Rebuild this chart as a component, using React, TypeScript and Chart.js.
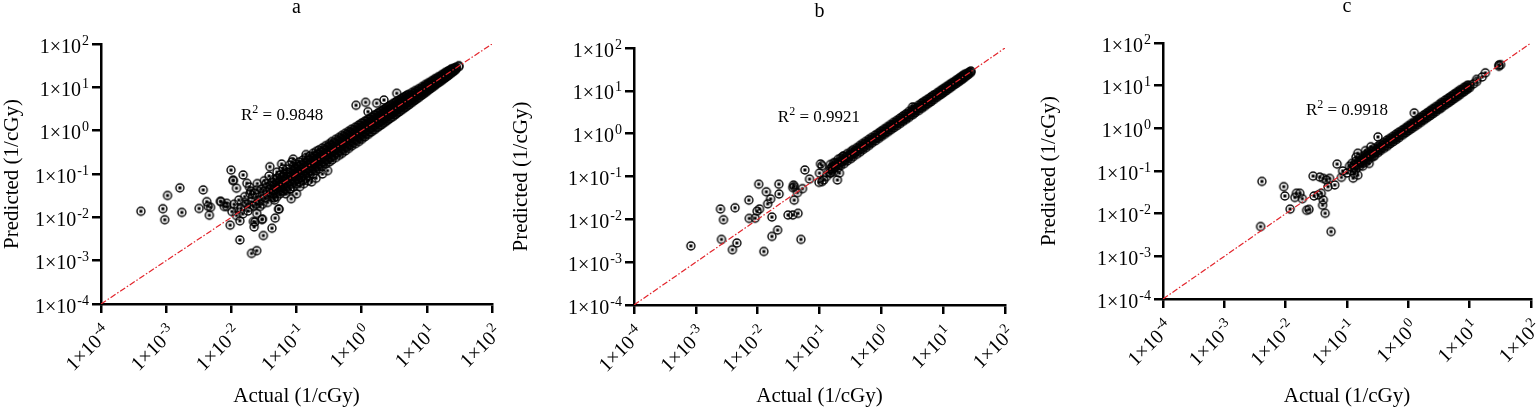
import React, { useEffect, useRef } from 'react';
import { Chart, registerables } from 'chart.js';

Chart.register(...registerables);

type Pair = [number, number];
type Column = [number, number[]];

const decadeExps = [-4, -3, -2, -1, 0, 1, 2];
const panelTitles = ['a', 'b', 'c'];
const rSquared = ['0.9848', '0.9921', '0.9918'];
const xTitle = 'Actual (1/cGy)';
const yTitle = 'Predicted (1/cGy)';

// [actual, predicted] points away from the main band
const scatterA: Pair[] = [
  [4.1e-4, 0.0138], [8.9e-4, 0.0158], [9.5e-4, 0.0088], [1.05e-3, 0.032], [1.62e-3, 0.048],
  [1.74e-3, 0.013], [3.2e-3, 0.016], [3.7e-3, 0.043], [4.2e-3, 0.023], [4.4e-3, 0.018],
  [4.6e-3, 0.0112], [4.8e-3, 0.017], [6.8e-3, 0.0234], [7.8e-3, 0.0178], [8.5e-3, 0.021],
  [9.9e-3, 0.123], [0.0107, 0.072], [0.0152, 0.095], [0.0096, 0.0066], [0.0135, 0.0083],
  [0.0135, 0.003], [0.0204, 0.00147], [0.0245, 0.0017], [0.0224, 0.006], [0.023, 0.0078],
  [0.031, 0.0038], [0.03, 0.0091], [0.042, 0.0056], [0.047, 0.0096], [0.053, 0.0155],
  [0.083, 0.027], [0.17, 0.066], [0.82, 3.85], [1.15, 4.5], [1.25, 2.75], [1.7, 4.3],
  [2.2, 5.1], [3.45, 7.3], [0.0107, 0.07], [0.012, 0.047], [0.0173, 0.061], [0.0069, 0.023],
  [0.0085, 0.0178], [0.0102, 0.0136], [0.0218, 0.008], [0.0295, 0.0089], [0.054, 0.0155],
  [0.0245, 0.0123], [0.0275, 0.0178], [0.0204, 0.023], [0.0193, 0.0355], [0.0245, 0.043],
  [0.0347, 0.051], [0.039, 0.147], [0.059, 0.17], [0.085, 0.19], [0.056, 0.095], [0.112, 0.051],
  [0.089, 0.22], [0.011, 0.02], [0.013, 0.025], [0.014, 0.016], [0.016, 0.03], [0.017, 0.02],
  [0.018, 0.014], [0.019, 0.05], [0.021, 0.028], [0.022, 0.018], [0.023, 0.036], [0.025, 0.06],
  [0.026, 0.025], [0.028, 0.032], [0.029, 0.045], [0.03, 0.02], [0.032, 0.07], [0.033, 0.028],
  [0.035, 0.038], [0.036, 0.022], [0.038, 0.09], [0.04, 0.03], [0.041, 0.055], [0.043, 0.042],
  [0.045, 0.075], [0.046, 0.025], [0.048, 0.035], [0.05, 0.11], [0.052, 0.05], [0.055, 0.065],
  [0.058, 0.04], [0.06, 0.085], [0.062, 0.13], [0.065, 0.05], [0.068, 0.035], [0.072, 0.11],
  [0.075, 0.06], [0.078, 0.16], [0.08, 0.045], [0.095, 0.14], [0.1, 0.035], [0.13, 0.06],
  [0.15, 0.07], [0.2, 0.08], [0.14, 0.28], [0.25, 0.1], [0.3, 0.12], [0.012, 0.011],
  [0.0125, 0.016], [0.015, 0.012], [0.016, 0.022], [0.019, 0.017], [0.02, 0.04], [0.024, 0.02],
  [0.027, 0.024], [0.031, 0.04], [0.034, 0.06], [0.037, 0.03], [0.039, 0.045], [0.042, 0.065],
  [0.044, 0.035], [0.047, 0.05], [0.051, 0.08], [0.053, 0.04], [0.057, 0.055], [0.061, 0.07],
  [0.064, 0.1], [0.067, 0.045], [0.07, 0.13], [0.074, 0.085], [0.086, 0.06], [0.09, 0.1],
];

// [actual, predicted values at that actual] along the main band
const bandA: Column[] = [
  [0.045, [0.028, 0.04, 0.055]], [0.05, [0.03, 0.045, 0.06, 0.08]], [0.056, [0.035, 0.05, 0.07]],
  [0.063, [0.04, 0.055, 0.07, 0.09]], [0.07, [0.042, 0.06, 0.075, 0.1]], [0.08, [0.045, 0.065, 0.085, 0.11]],
  [0.09, [0.05, 0.07, 0.09, 0.12, 0.15]], [0.1, [0.06, 0.08, 0.1, 0.13, 0.17]], [0.11, [0.065, 0.09, 0.115, 0.15, 0.19]],
  [0.125, [0.07, 0.1, 0.13, 0.16, 0.21]], [0.14, [0.08, 0.11, 0.14, 0.18, 0.24]], [0.16, [0.09, 0.12, 0.16, 0.21, 0.26]],
  [0.18, [0.1, 0.14, 0.18, 0.23, 0.3]], [0.2, [0.12, 0.16, 0.2, 0.26, 0.33]], [0.22, [0.13, 0.17, 0.22, 0.29, 0.36]],
  [0.25, [0.15, 0.19, 0.25, 0.32, 0.4]], [0.28, [0.17, 0.22, 0.28, 0.36, 0.45]], [0.32, [0.19, 0.25, 0.32, 0.41, 0.5]],
  [0.35, [0.21, 0.27, 0.35, 0.45, 0.56]], [0.4, [0.24, 0.31, 0.4, 0.5, 0.63]], [0.45, [0.27, 0.35, 0.45, 0.57, 0.7]],
  [0.5, [0.3, 0.39, 0.5, 0.63, 0.78]], [0.56, [0.34, 0.44, 0.56, 0.7, 0.87]], [0.63, [0.39, 0.5, 0.63, 0.79, 0.97]],
  [0.7, [0.44, 0.56, 0.7, 0.88, 1.08]], [0.8, [0.5, 0.63, 0.8, 1.0, 1.2]], [0.9, [0.56, 0.71, 0.9, 1.12, 1.35]],
  [1, [0.63, 0.8, 1, 1.24, 1.5]], [1.12, [0.72, 0.9, 1.12, 1.38, 1.66]], [1.26, [0.82, 1.02, 1.26, 1.55, 1.85]],
  [1.41, [0.93, 1.15, 1.41, 1.72, 2.05]], [1.58, [1.05, 1.3, 1.58, 1.92, 2.3]], [1.78, [1.2, 1.46, 1.78, 2.15, 2.55]],
  [2, [1.36, 1.65, 2, 2.4, 2.85]], [2.24, [1.55, 1.85, 2.24, 2.7, 3.15]], [2.5, [1.75, 2.1, 2.5, 3.0, 3.5]],
  [2.8, [2.0, 2.35, 2.8, 3.35, 3.9]], [3.2, [2.3, 2.7, 3.2, 3.8, 4.4]], [3.5, [2.55, 3.0, 3.55, 4.2, 4.8]],
  [4, [2.95, 3.4, 4, 4.7, 5.4]], [4.5, [3.35, 3.85, 4.5, 5.25, 6]], [5, [3.8, 4.35, 5, 5.8, 6.6]],
  [5.6, [4.3, 4.9, 5.6, 6.5]], [6.3, [4.9, 5.5, 6.3, 7.3]], [7, [5.5, 6.2, 7.1, 8.1]],
  [8, [6.3, 7.1, 8, 9.1]], [9, [7.2, 8, 9, 10.2]], [10, [8.1, 9, 10, 11.3]],
  [11.2, [9.2, 10.2, 11.3, 12.6]], [12.6, [10.5, 11.5, 12.6, 14]], [14, [11.8, 12.8, 14.1, 15.5]],
  [16, [13.6, 14.6, 16, 17.6]], [18, [15.5, 16.6, 18, 19.6]], [20, [17.5, 18.6, 20, 21.8]],
  [22, [19.5, 20.8, 22.3, 24]], [25, [22.5, 23.8, 25.2, 27]], [28, [26, 27.5, 29]], [31, [30, 31.5]],
];

// in-between columns of the same band
const bandA2: Column[] = [
  [0.095, [0.068, 0.085, 0.105, 0.135]], [0.105, [0.075, 0.092, 0.118, 0.15]], [0.118, [0.083, 0.104, 0.132, 0.165]],
  [0.132, [0.093, 0.116, 0.148, 0.185]], [0.15, [0.105, 0.132, 0.168, 0.21]], [0.17, [0.12, 0.15, 0.19, 0.24]],
  [0.19, [0.133, 0.167, 0.213, 0.266]], [0.21, [0.147, 0.185, 0.235, 0.295]], [0.235, [0.165, 0.207, 0.263, 0.33]],
  [0.265, [0.186, 0.233, 0.297, 0.37]], [0.3, [0.21, 0.264, 0.336, 0.42]], [0.335, [0.235, 0.295, 0.375, 0.47]],
  [0.375, [0.263, 0.33, 0.42, 0.525]], [0.425, [0.3, 0.374, 0.476, 0.595]], [0.475, [0.333, 0.418, 0.532, 0.665]],
  [0.53, [0.37, 0.466, 0.594, 0.742]], [0.595, [0.417, 0.524, 0.666, 0.833]], [0.665, [0.466, 0.585, 0.745, 0.93]],
  [0.75, [0.525, 0.66, 0.84, 1.05]], [0.85, [0.6, 0.75, 0.95, 1.19]], [0.95, [0.665, 0.836, 1.06, 1.33]],
  [1.06, [0.74, 0.93, 1.19, 1.48]], [1.19, [0.83, 1.05, 1.33, 1.67]], [1.33, [0.93, 1.17, 1.49, 1.86]],
  [1.5, [1.05, 1.32, 1.68, 2.1]], [1.68, [1.18, 1.48, 1.88, 2.35]], [1.89, [1.32, 1.66, 2.12, 2.65]],
  [2.12, [1.48, 1.87, 2.37, 2.97]], [2.37, [1.66, 2.09, 2.65, 3.3]], [2.65, [1.86, 2.33, 2.97, 3.7]],
  [3, [2.1, 2.64, 3.36, 4.2]], [3.35, [2.4, 2.95, 3.75, 4.6]], [3.75, [2.7, 3.3, 4.2, 5.1]],
  [4.25, [3.1, 3.75, 4.75, 5.7]], [4.75, [3.5, 4.2, 5.3, 6.3]], [5.3, [3.95, 4.7, 5.9, 6.9]],
  [5.95, [4.5, 5.3, 6.6, 7.6]], [6.65, [5.1, 5.95, 7.35, 8.4]], [7.5, [5.8, 6.7, 8.25, 9.3]],
  [8.5, [6.7, 7.6, 9.3, 10.4]], [9.5, [7.6, 8.5, 10.4, 11.6]], [10.6, [8.6, 9.5, 11.6, 12.8]],
  [11.9, [9.8, 10.7, 13, 14.2]], [13.3, [11.1, 12, 14.5, 15.8]], [15, [12.7, 13.6, 16.2, 17.5]],
  [17, [14.5, 15.5, 18.3, 19.6]], [19, [16.4, 17.4, 20.4, 21.8]], [21, [18.4, 19.4, 22.5, 23.8]],
  [23.5, [21, 22, 25, 26.3]], [26.5, [24.2, 25.2, 27.8]],
];

const scatterB: Pair[] = [
  [8.3e-4, 0.0024], [2.6e-3, 0.0034], [2.8e-3, 0.0098], [2.5e-3, 0.0174], [4.3e-3, 0.0186],
  [3.9e-3, 0.00195], [4.6e-3, 0.0028], [7.2e-3, 0.028], [7.3e-3, 0.0105], [9.1e-3, 0.0106],
  [0.0104, 0.066], [0.0107, 0.0174], [0.0098, 0.0155], [0.0138, 0.044], [0.0145, 0.023],
  [0.0162, 0.03], [0.017, 0.0113], [0.0126, 0.00178], [0.017, 0.004], [0.021, 0.0056],
  [0.022, 0.066], [0.0222, 0.039], [0.031, 0.0126], [0.037, 0.0126], [0.045, 0.0138],
  [0.038, 0.063], [0.039, 0.058], [0.037, 0.055], [0.039, 0.028], [0.044, 0.042],
  [0.05, 0.0034], [0.053, 0.052], [0.058, 0.142], [0.069, 0.087], [0.098, 0.073],
  [0.11, 0.076], [0.117, 0.083], [0.104, 0.196], [0.1, 0.12], [0.15, 0.12], [0.17, 0.155],
  [0.195, 0.083], [0.11, 0.18], [0.13, 0.1], [0.14, 0.13], [0.18, 0.21], [0.21, 0.12], [0.24, 0.3],
];

const bandB: Column[] = [
  [0.15, [0.12, 0.15, 0.19]], [0.17, [0.13, 0.17, 0.21]], [0.2, [0.16, 0.2, 0.25]],
  [0.22, [0.18, 0.22, 0.27]], [0.25, [0.2, 0.25, 0.3]], [0.28, [0.23, 0.28, 0.34]],
  [0.32, [0.26, 0.32, 0.38]], [0.35, [0.29, 0.35, 0.42]], [0.4, [0.33, 0.4, 0.47]],
  [0.45, [0.37, 0.45, 0.53]], [0.5, [0.42, 0.5, 0.59]], [0.56, [0.47, 0.56, 0.66]],
  [0.63, [0.53, 0.63, 0.74]], [0.7, [0.6, 0.7, 0.82]], [0.8, [0.68, 0.8, 0.93]],
  [0.9, [0.77, 0.9, 1.04]], [1, [0.86, 1, 1.16]], [1.12, [0.96, 1.12, 1.3]],
  [1.26, [1.08, 1.26, 1.46]], [1.41, [1.21, 1.41, 1.63]], [1.58, [1.36, 1.58, 1.83]],
  [1.78, [1.53, 1.78, 2.05]], [2, [1.72, 2, 2.3]], [2.24, [1.93, 2.24, 2.6]],
  [2.5, [2.15, 2.5, 2.9]], [2.8, [2.4, 2.8, 3.3]], [3.2, [2.75, 3.2, 3.7, 4.2]],
  [3.5, [3.05, 3.55, 4.1]], [4, [3.45, 4, 4.6]], [4.5, [3.9, 4.5, 5.2]],
  [5, [4.35, 5, 5.75]], [5.6, [4.9, 5.6, 6.4]], [6.3, [5.5, 6.3, 7.2]],
  [7, [6.2, 7.1, 8]], [8, [7.1, 8, 9]], [9, [8, 9, 10.1]], [10, [8.9, 10, 11.2]],
  [11.2, [10, 11.2, 12.5]], [12.6, [11.3, 12.6, 14]], [14, [12.7, 14, 15.5]],
  [16, [14.5, 16, 17.5]], [18, [16.5, 18, 19.6]], [20, [18.4, 20, 21.8]],
  [22, [20.5, 22, 24]], [25, [23.5, 25.5]], [28, [27, 29]],
];

const bandB2: Column[] = [
  [0.16, [0.14, 0.17]], [0.185, [0.17, 0.2]], [0.21, [0.19, 0.225]], [0.235, [0.22, 0.25]],
  [0.265, [0.245, 0.285]], [0.3, [0.28, 0.32]], [0.335, [0.31, 0.36]], [0.375, [0.35, 0.4]],
  [0.42, [0.39, 0.45]], [0.475, [0.44, 0.51]], [0.53, [0.49, 0.57]], [0.6, [0.56, 0.64]],
  [0.665, [0.62, 0.71]], [0.75, [0.7, 0.8]], [0.85, [0.79, 0.91]], [0.95, [0.88, 1.02]],
  [1.06, [0.99, 1.13]], [1.19, [1.1, 1.27]], [1.33, [1.24, 1.42]], [1.5, [1.4, 1.6]],
  [1.68, [1.56, 1.8]], [1.89, [1.76, 2.02]], [2.12, [1.97, 2.27]], [2.37, [2.2, 2.54]],
  [2.65, [2.46, 2.84]], [3, [2.8, 3.2]], [3.35, [3.1, 3.6]], [3.75, [3.5, 4]],
  [4.25, [3.95, 4.55]], [4.75, [4.4, 5.1]], [5.3, [4.9, 5.7]], [5.95, [5.5, 6.4]],
  [6.65, [6.2, 7.1]], [7.5, [7, 8]], [8.5, [7.9, 9.1]], [9.5, [8.8, 10.2]],
  [10.6, [9.9, 11.3]], [11.9, [11.1, 12.7]], [13.3, [12.4, 14.2]], [15, [14, 16]],
  [17, [15.8, 18.2]], [19, [17.7, 20.3]], [21, [19.6, 22.5]], [23.5, [22, 25]], [26.5, [25.5, 27.5]],
];

const scatterC: Pair[] = [
  [4.1e-3, 0.057], [3.9e-3, 0.005], [9.3e-3, 0.043], [9.7e-3, 0.026], [0.0118, 0.0128],
  [0.0141, 0.024], [0.015, 0.03], [0.017, 0.03], [0.0187, 0.0224], [0.022, 0.012],
  [0.024, 0.0126], [0.028, 0.076], [0.029, 0.026], [0.034, 0.0275], [0.038, 0.03],
  [0.036, 0.072], [0.041, 0.067], [0.046, 0.062], [0.052, 0.067], [0.04, 0.0158],
  [0.041, 0.021], [0.044, 0.0102], [0.055, 0.0038], [0.049, 0.043], [0.063, 0.047],
  [0.069, 0.145], [0.081, 0.071], [0.085, 0.1], [0.126, 0.068], [0.13, 0.088], [0.15, 0.08],
  [0.14, 0.21], [0.15, 0.26], [0.23, 0.15], [0.245, 0.37], [0.32, 0.63], [1.25, 2.3],
  [0.1, 0.09], [0.11, 0.13], [0.18, 0.13], [0.2, 0.3], [0.27, 0.22],
];

const bandC: Column[] = [
  [0.12, [0.1, 0.12, 0.15]], [0.14, [0.11, 0.14, 0.17]], [0.16, [0.13, 0.16, 0.2]],
  [0.18, [0.15, 0.18, 0.22]], [0.2, [0.16, 0.2, 0.24]], [0.22, [0.18, 0.22, 0.27]],
  [0.25, [0.21, 0.25, 0.3]], [0.28, [0.23, 0.28, 0.34]], [0.32, [0.27, 0.32, 0.38]],
  [0.35, [0.3, 0.35, 0.42]], [0.4, [0.34, 0.4, 0.47]], [0.45, [0.38, 0.45, 0.53]],
  [0.5, [0.43, 0.5, 0.58]], [0.56, [0.48, 0.56, 0.65]], [0.63, [0.54, 0.63, 0.73]],
  [0.7, [0.6, 0.7, 0.81]], [0.8, [0.69, 0.8, 0.92]], [0.9, [0.78, 0.9, 1.03]],
  [1, [0.87, 1, 1.15]], [1.12, [0.97, 1.12, 1.29]], [1.26, [1.09, 1.26, 1.45]],
  [1.41, [1.22, 1.41, 1.62]], [1.58, [1.37, 1.58, 1.82]], [1.78, [1.55, 1.78, 2.05]],
  [2, [1.74, 2, 2.3]], [2.24, [1.95, 2.24, 2.58]], [2.5, [2.18, 2.5, 2.88]],
  [2.8, [2.45, 2.8, 3.22]], [3.2, [2.8, 3.2, 3.65]], [3.5, [3.07, 3.55, 4.05]],
  [4, [3.5, 4, 4.6]], [4.5, [3.95, 4.5, 5.15]], [5, [4.4, 5, 5.7]],
  [5.6, [4.95, 5.6, 6.4]], [6.3, [5.55, 6.3, 7.2]], [7, [6.2, 7.1, 8]],
  [8, [7.1, 8, 9]], [9, [8.1, 9, 10]], [10, [9, 10]], [11.5, [11]], [13, [12.5, 14]],
  [16, [16]], [18, [20]], [30, [28.5, 30.5]], [32, [31]],
];

const bandC2: Column[] = [
  [0.13, [0.12, 0.14]], [0.15, [0.14, 0.16]], [0.17, [0.16, 0.18]], [0.19, [0.175, 0.205]],
  [0.21, [0.195, 0.225]], [0.235, [0.22, 0.25]], [0.265, [0.245, 0.285]], [0.3, [0.28, 0.32]],
  [0.335, [0.31, 0.36]], [0.375, [0.35, 0.4]], [0.42, [0.39, 0.45]], [0.475, [0.44, 0.51]],
  [0.53, [0.49, 0.57]], [0.6, [0.56, 0.64]], [0.665, [0.62, 0.71]], [0.75, [0.7, 0.8]],
  [0.85, [0.79, 0.91]], [0.95, [0.88, 1.02]], [1.06, [0.99, 1.13]], [1.19, [1.1, 1.27]],
  [1.33, [1.24, 1.42]], [1.5, [1.4, 1.6]], [1.68, [1.56, 1.8]], [1.89, [1.76, 2.02]],
  [2.12, [1.97, 2.27]], [2.37, [2.2, 2.54]], [2.65, [2.46, 2.84]], [3, [2.8, 3.2]],
  [3.35, [3.1, 3.6]], [3.75, [3.5, 4]], [4.25, [3.95, 4.55]], [4.75, [4.4, 5.1]],
  [5.3, [4.9, 5.7]], [5.95, [5.5, 6.4]], [6.65, [6.2, 7.1]], [7.5, [7, 8]],
  [8.5, [7.9, 9.1]], [9.5, [8.8, 10.2]],
];

const FONT = '"Liberation Serif", "Times New Roman", serif';

function toPoints(scatter: Pair[], ...bands: Column[][]) {
  const pts = scatter.map(([x, y]) => ({ x, y }));
  bands.forEach((band) => band.forEach(([x, ys]) => ys.forEach((y) => pts.push({ x, y }))));
  return pts;
}

function makeRing(): HTMLCanvasElement {
  const c = document.createElement('canvas');
  c.width = 12;
  c.height = 12;
  const g = c.getContext('2d')!;
  g.strokeStyle = '#000';
  g.lineWidth = 1.4;
  g.beginPath();
  g.arc(6, 6, 4, 0, Math.PI * 2);
  g.stroke();
  g.fillStyle = '#000';
  g.fillRect(4.5, 4.5, 3, 3);
  return c;
}

// draws "1×10^exp" with its right end at (0, 0), digits centred on y = 0
function drawPower(ctx: CanvasRenderingContext2D, exp: number, size: number) {
  const base = '1×10';
  const sup = exp < 0 ? '-' + Math.abs(exp) : String(exp);
  const supSize = size * 0.7;
  ctx.font = `${size}px ${FONT}`;
  const bw = ctx.measureText(base).width;
  ctx.font = `${supSize}px ${FONT}`;
  const sw = ctx.measureText(sup).width;
  ctx.textAlign = 'left';
  ctx.textBaseline = 'alphabetic';
  const baseY = size * 0.33;
  ctx.font = `${size}px ${FONT}`;
  ctx.fillText(base, -(bw + sw + 1), baseY);
  ctx.font = `${supSize}px ${FONT}`;
  ctx.fillText(sup, -sw, baseY - size * 0.4);
}

const panelText = {
  id: 'panelText',
  afterDraw(chart: any, _args: any, opts: any) {
    const { ctx, chartArea, scales } = chart;
    const xs = scales.x;
    const ys = scales.y;
    ctx.save();
    ctx.fillStyle = '#000';

    // y tick labels
    decadeExps.forEach((e) => {
      const py = ys.getPixelForValue(Math.pow(10, e));
      ctx.save();
      ctx.translate(chartArea.left - 12, py + 2);
      drawPower(ctx, e, 20);
      ctx.restore();
    });

    // x tick labels, rotated 45°
    decadeExps.forEach((e) => {
      const px = xs.getPixelForValue(Math.pow(10, e));
      ctx.save();
      ctx.translate(px + 6, chartArea.bottom + 25);
      ctx.rotate(-Math.PI / 4);
      drawPower(ctx, e, 20);
      ctx.restore();
    });

    // panel letter
    ctx.font = `20px ${FONT}`;
    ctx.textAlign = 'center';
    ctx.textBaseline = 'alphabetic';
    ctx.fillText(opts.title, (chartArea.left + chartArea.right) / 2, chartArea.top - 31);

    // R² annotation
    const cx = xs.getPixelForValue(opts.rAt[0]);
    const by = ys.getPixelForValue(opts.rAt[1]);
    const rest = ' = ' + opts.r2;
    ctx.font = `17px ${FONT}`;
    const rw = ctx.measureText('R').width;
    const restW = ctx.measureText(rest).width;
    ctx.font = `12px ${FONT}`;
    const sw = ctx.measureText('2').width;
    const total = rw + sw + restW;
    const x0 = cx - total / 2;
    ctx.textAlign = 'left';
    ctx.font = `17px ${FONT}`;
    ctx.fillText('R', x0, by);
    ctx.font = `12px ${FONT}`;
    ctx.fillText('2', x0 + rw, by - 7);
    ctx.font = `17px ${FONT}`;
    ctx.fillText(rest, x0 + rw + sw, by);
    ctx.restore();
  },
};

interface PanelSpec {
  title: string;
  r2: string;
  points: { x: number; y: number }[];
  left: number;
  width: number;
  axisW: number;
  axisH: number;
  top: number;
  right: number;
  rAt: [number, number];
}

const panels: PanelSpec[] = [
  { title: panelTitles[0], r2: rSquared[0], points: toPoints(scatterA, bandA, bandA2), left: 0, width: 512, axisW: 101, axisH: 105, top: 44, right: 20, rAt: [0.06, 1.78] },
  { title: panelTitles[1], r2: rSquared[1], points: toPoints(scatterB, bandB, bandB2), left: 509, width: 512, axisW: 125, axisH: 104, top: 48, right: 16, rAt: [0.098, 1.9] },
  { title: panelTitles[2], r2: rSquared[2], points: toPoints(scatterC, bandC, bandC2), left: 1037, width: 499, axisW: 126, axisH: 110, top: 43, right: 3, rAt: [0.1, 2.04] },
];

const decadeTicks = (scale: any) => {
  scale.ticks = decadeExps.map((e) => ({ value: Math.pow(10, e) }));
};

const axisCommon = {
  type: 'logarithmic' as const,
  min: 1e-4,
  max: 1e2,
  afterBuildTicks: decadeTicks,
  ticks: { display: false },
  grid: { drawOnChartArea: false, tickLength: 9, tickWidth: 2.5, lineWidth: 2.5, color: '#000' },
  border: { color: '#000', width: 2.5 },
};

const Panel: React.FC<{ spec: PanelSpec }> = ({ spec }) => {
  const ref = useRef<HTMLCanvasElement | null>(null);

  useEffect(() => {
    if (!ref.current) return;
    const ring = makeRing();
    const chart = new Chart(ref.current, {
      type: 'scatter',
      data: {
        datasets: [
          {
            data: [{ x: 1e-4, y: 1e-4 }, { x: 1e2, y: 1e2 }],
            showLine: true,
            borderColor: '#e3242b',
            borderWidth: 1.2,
            borderDash: [6, 2, 1.5, 2],
            pointRadius: 0,
          },
          {
            data: spec.points,
            pointStyle: ring,
            pointRadius: 4,
          },
        ],
      },
      options: {
        animation: false,
        responsive: false,
        events: [],
        layout: { padding: { left: 0, top: spec.top, right: spec.right, bottom: 0 } },
        plugins: {
          legend: { display: false },
          tooltip: { enabled: false },
          panelText: { title: spec.title, r2: spec.r2, rAt: spec.rAt },
        } as any,
        scales: {
          x: {
            ...axisCommon,
            position: 'bottom',
            afterFit: (s: any) => {
              s.height = spec.axisH;
            },
            title: { display: true, text: xTitle, color: '#000', font: { family: FONT, size: 21 }, padding: 0 },
          },
          y: {
            ...axisCommon,
            position: 'left',
            afterFit: (s: any) => {
              s.width = spec.axisW;
            },
            title: { display: true, text: yTitle, color: '#000', font: { family: FONT, size: 21 }, padding: 0 },
          },
        } as any,
      },
      plugins: [panelText as any],
    });
    return () => chart.destroy();
  }, [spec]);

  return (
    <canvas
      ref={ref}
      width={spec.width}
      height={409}
      style={{ position: 'absolute', left: spec.left, top: 0, width: spec.width, height: 409 }}
    />
  );
};

export default function App() {
  return (
    <div style={{ position: 'absolute', left: 0, top: 0, width: 1536, height: 409, background: '#fff' }}>
      {panels.map((p) => (
        <Panel key={p.title} spec={p} />
      ))}
    </div>
  );
}
